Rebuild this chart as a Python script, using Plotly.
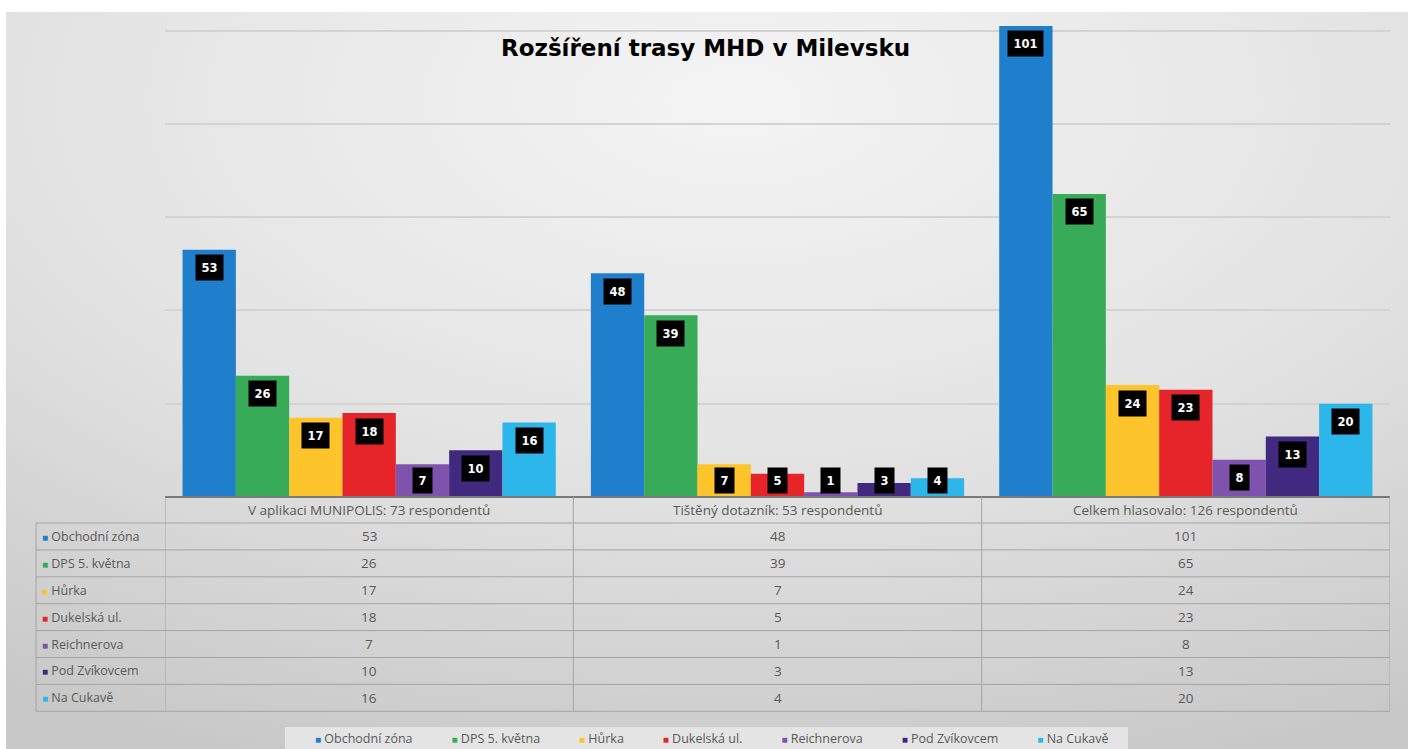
import base64
import plotly.graph_objects as go

# ---------------- data ----------------
categories = [
    "V aplikaci MUNIPOLIS: 73 respondentů",
    "Tištěný dotazník: 53 respondentů",
    "Celkem hlasovalo: 126 respondentů",
]
series_names = ["Obchodní zóna", "DPS 5. května", "Hůrka", "Dukelská ul.",
                "Reichnerova", "Pod Zvíkovcem", "Na Cukavě"]
obchodni_zona = [53, 48, 101]
dps_5_kvetna = [26, 39, 65]
hurka = [17, 7, 24]
dukelska_ul = [18, 5, 23]
reichnerova = [7, 1, 8]
pod_zvikovcem = [10, 3, 13]
na_cukave = [16, 4, 20]
series_values = [obchodni_zona, dps_5_kvetna, hurka, dukelska_ul,
                 reichnerova, pod_zvikovcem, na_cukave]
title_text = "Rozšíření trasy MHD v Milevsku"

# ---------------- style ----------------
colors = ["#1f7fcc", "#38ab58", "#fdc42c", "#e6252b", "#7e52ad", "#40297f", "#2db6e9"]
W, H = 1408, 749
PL, PR, PT, PB = 165, 1390, 12, 497        # plot area in pixels
Y_MAX = 104
BARGAP = 0.086
ppu = (PB - PT) / Y_MAX
TABLE_FONT = "Open Sans, Noto Sans, sans-serif"
TEXT_GREY = "#595959"


def px_x(px):
    return (px - PL) / (PR - PL)


def px_y(py):
    return (PB - py) / (PB - PT)


fig = go.Figure()
for name, vals, col in zip(series_names, series_values, colors):
    fig.add_trace(go.Bar(x=categories, y=vals, name=name, marker_color=col,
                         marker_line_width=0, showlegend=False, hoverinfo="skip"))

annotations = []
shapes = []

# data labels (black boxes)
n = len(series_names)
bw = (1 - BARGAP) / n
for i, vals in enumerate(series_values):
    off = -(1 - BARGAP) / 2 + (i + 0.5) * bw
    for j, v in enumerate(vals):
        ylab = max(v - 18 / ppu, 17 / ppu)
        annotations.append(dict(
            x=j + off, y=ylab, xref="x", yref="y", text=f"<b>{v}</b>",
            showarrow=False, bgcolor="#000000", borderpad=5.5,
            font=dict(color="white", size=11.5, family="DejaVu Sans, sans-serif"),
            xanchor="center", yanchor="middle"))

# title
annotations.append(dict(
    x=px_x(705), y=px_y(48), xref="paper", yref="paper",
    text=f"<b>{title_text}</b>", showarrow=False,
    font=dict(size=23, color="#000000", family="DejaVu Sans, sans-serif"),
    xanchor="center", yanchor="middle"))

# ---------------- data table ----------------
LINE = "#a4a4a4"
header_top, header_bot = 497, 523
row_h = 26.9
rows_bot = header_bot + row_h * n
left_edge = 36

# horizontal lines
shapes.append(dict(type="line", xref="paper", yref="paper", x0=0, x1=px_x(PR),
                   y0=px_y(header_top), y1=px_y(header_top),
                   line=dict(color="#7a7a7a", width=2), layer="above"))
for k in range(n + 1):
    yy = header_bot + row_h * k
    shapes.append(dict(type="line", xref="paper", yref="paper",
                       x0=px_x(left_edge), x1=px_x(PR), y0=px_y(yy), y1=px_y(yy),
                       line=dict(color=LINE, width=1)))
# vertical lines
shapes.append(dict(type="line", xref="paper", yref="paper", x0=px_x(left_edge),
                   x1=px_x(left_edge), y0=px_y(header_bot), y1=px_y(rows_bot),
                   line=dict(color=LINE, width=1)))
for k in range(len(categories) + 1):
    shapes.append(dict(type="line", xref="x", yref="paper", x0=k - 0.5, x1=k - 0.5,
                       y0=px_y(header_top), y1=px_y(rows_bot),
                       line=dict(color=LINE, width=1)))

# header cells
for j, c in enumerate(categories):
    annotations.append(dict(x=j, y=px_y((header_top + header_bot) / 2), xref="x",
                            yref="paper", text=c, showarrow=False,
                            font=dict(size=13.5, color=TEXT_GREY, family=TABLE_FONT),
                            xanchor="center", yanchor="middle"))
# rows
for i, (name, vals, col) in enumerate(zip(series_names, series_values, colors)):
    yc = px_y(header_bot + row_h * (i + 0.5))
    annotations.append(dict(
        x=px_x(40), y=yc, xref="paper", yref="paper",
        text=f"<span style='color:{col};font-size:10px'>■</span> {name}", showarrow=False,
        font=dict(size=12.5, color=TEXT_GREY, family=TABLE_FONT),
        xanchor="left", yanchor="middle"))
    for j, v in enumerate(vals):
        annotations.append(dict(x=j, y=yc, xref="x", yref="paper", text=str(v),
                                showarrow=False,
                                font=dict(size=13.5, color=TEXT_GREY, family=TABLE_FONT),
                                xanchor="center", yanchor="middle"))

# ---------------- bottom legend ----------------
shapes.append(dict(type="rect", xref="paper", yref="paper", x0=px_x(285), x1=px_x(1128),
                   y0=px_y(749), y1=px_y(727), fillcolor="#e4e4e4", line=dict(width=0),
                   layer="below"))
legend_html = ("&nbsp;" * 12).join(
    f"<span style='color:{c};font-size:10px'>■</span> {nm}" for nm, c in zip(series_names, colors))
annotations.append(dict(x=px_x(712), y=px_y(738), xref="paper", yref="paper",
                        text=legend_html, showarrow=False,
                        font=dict(size=12.5, color=TEXT_GREY, family=TABLE_FONT),
                        xanchor="center", yanchor="middle"))

# ---------------- background gradient ----------------
bg_w, bg_h = W - 6, H - 12
svg = (f"<svg xmlns='http://www.w3.org/2000/svg' width='{bg_w}' height='{bg_h}' "
       f"viewBox='0 0 {bg_w} {bg_h}' preserveAspectRatio='none'>"
       "<defs><radialGradient id='g' cx='0.52' cy='0.12' r='0.95'>"
       "<stop offset='0' stop-color='#f4f4f4'/>"
       "<stop offset='0.55' stop-color='#e2e2e2'/>"
       "<stop offset='1' stop-color='#c8c8c8'/>"
       "</radialGradient></defs>"
       f"<rect x='0' y='0' width='{bg_w}' height='{bg_h}' fill='url(#g)'/></svg>")
src = "data:image/svg+xml;base64," + base64.b64encode(svg.encode()).decode()

fig.update_layout(
    width=W, height=H, autosize=False,
    margin=dict(l=PL, r=W - PR, t=PT, b=H - PB, pad=0),
    paper_bgcolor="white", plot_bgcolor="rgba(0,0,0,0)",
    barmode="group", bargap=BARGAP, bargroupgap=0,
    showlegend=False,
    xaxis=dict(type="category", showticklabels=False, showgrid=False, zeroline=False,
               showline=False, ticks="", range=[-0.5, 2.5], fixedrange=True),
    yaxis=dict(range=[0, Y_MAX], tickvals=[20, 40, 60, 80, 100], showticklabels=False,
               showgrid=True, gridcolor="#d3d3d3", gridwidth=1.5, zeroline=False,
               showline=False, ticks="", fixedrange=True),
    images=[dict(source=src, xref="paper", yref="paper", x=px_x(6), y=px_y(12),
                 sizex=(W - 6) / (PR - PL), sizey=(H - 12) / (PB - PT),
                 xanchor="left", yanchor="top", sizing="stretch", layer="below")],
    annotations=annotations, shapes=shapes,
)

fig.write_html("out.html", config={"displayModeBar": False},
               post_script="document.body.style.margin='0';"
                           "document.body.style.overflow='hidden';")
